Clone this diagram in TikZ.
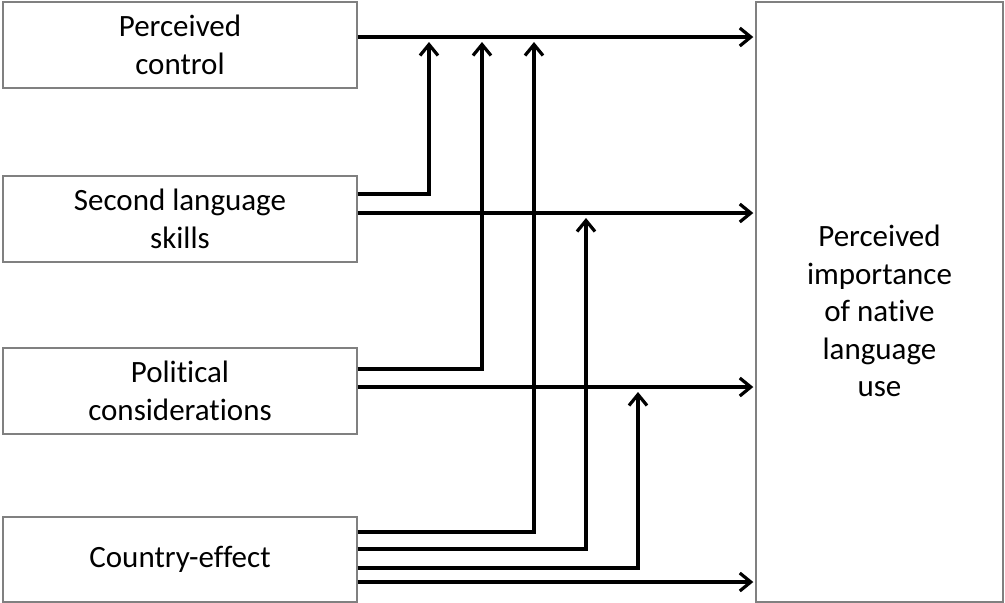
\documentclass[tikz,border=0pt]{standalone}
\usepackage{fontspec}
\setmainfont{Carlito}[RawFeature=-liga]
\usetikzlibrary{arrows.meta}
\begin{document}
\begin{tikzpicture}[x=1pt,y=-1pt,
  box/.style={draw=black!50, line width=1.4pt, fill=white, minimum width=354pt, inner sep=0pt, align=center, font=\fontsize{31}{37.5}\selectfont},
  lbl/.style={align=center, inner sep=0pt, font=\fontsize{31}{37.5}\selectfont},
  arr/.style={line width=3.4pt, -{Straight Barb[length=11pt,width=18pt,line width=3.2pt]}}]
\useasboundingbox (0,0) rectangle (1005,603);
\node[box, minimum height=86pt] (b1) at (180,45) {Perceived\\control};
\node[box, minimum height=86pt] (b2) at (180,219) {Second language\\skills};
\node[box, minimum height=86pt] (b3) at (180,391) {Political\\considerations};
\node[box, minimum height=85pt] (b4) at (180,559.5) {Country-effect};
\node[box, minimum width=247pt, minimum height=600pt] (R) at (879.5,302) {};
\node[lbl] (Rt) at (879.5,311) {Perceived\\importance\\of native\\language\\use};
% tip coordinates
\coordinate (t1) at (429,42);
\coordinate (t2) at (482,42);
\coordinate (t3) at (534,42);
\coordinate (t4) at (586,218);
\coordinate (t5) at (638,392);
% horizontal arrows
\draw[arr] ([yshift=8pt]b1.east) coordinate (s1) -- ([xshift=-2pt]s1 -| R.west);
\draw[arr] ([yshift=6pt]b2.east) coordinate (s2) -- ([xshift=-2pt]s2 -| R.west);
\draw[arr] ([yshift=4pt]b3.east) coordinate (s3) -- ([xshift=-2pt]s3 -| R.west);
\draw[arr] ([yshift=-22.5pt]b4.east) coordinate (s4) -- ([xshift=-2pt]s4 -| R.west);
% elbow arrows
\draw[arr] ([yshift=25pt]b2.east) -| (t1);
\draw[arr] ([yshift=22pt]b3.east) -| (t2);
\draw[arr] ([yshift=27.5pt]b4.east) -| (t3);
\draw[arr] ([yshift=10.5pt]b4.east) -| (t4);
\draw[arr] ([yshift=-8.5pt]b4.east) -| (t5);
\end{tikzpicture}
\end{document}
